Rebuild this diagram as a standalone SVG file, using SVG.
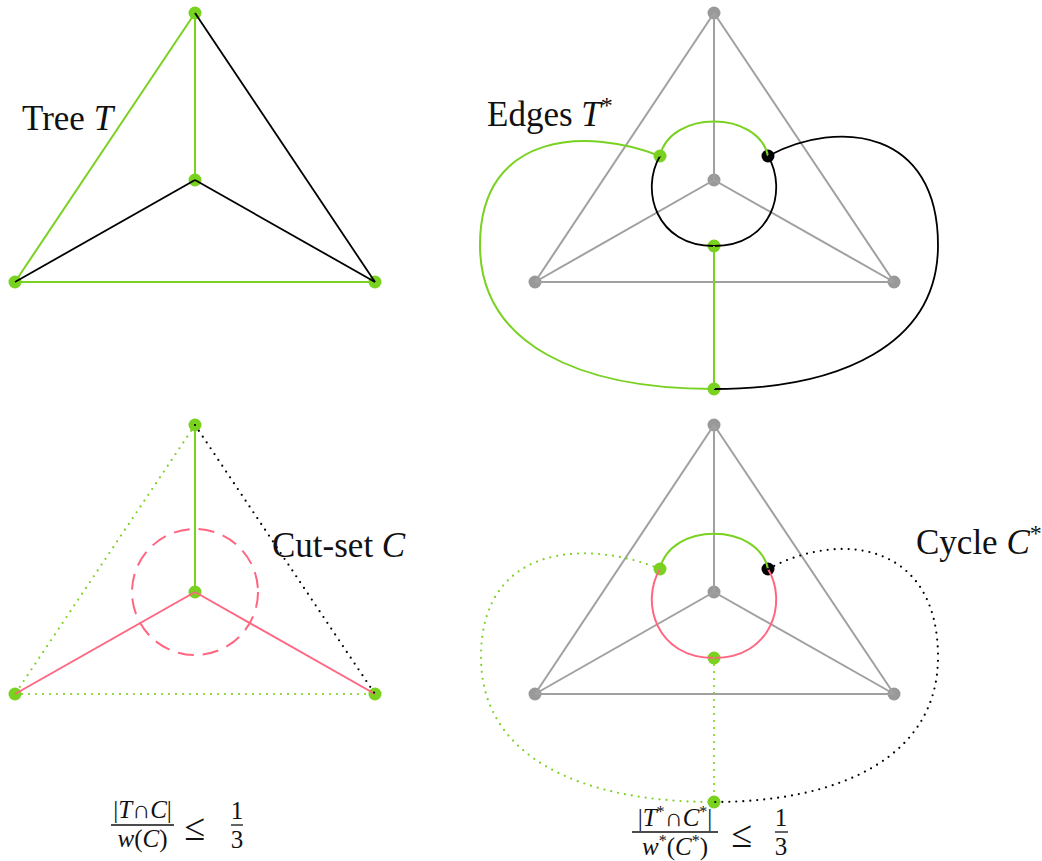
<svg xmlns="http://www.w3.org/2000/svg" width="1042" height="861" viewBox="0 0 1042 861">
<style>
.g{stroke:#79d120;stroke-width:2;fill:none}
.k{stroke:#000;stroke-width:1.8;fill:none}
.p{stroke:#a0a0a0;stroke-width:2;fill:none}
.r{stroke:#ff6680;stroke-width:2;fill:none}
.gd{stroke:#79d120;stroke-width:2.2;fill:none;stroke-dasharray:0 7;stroke-linecap:round}
.kd{stroke:#000;stroke-width:2.2;fill:none;stroke-dasharray:0 7;stroke-linecap:round}
.rd{stroke:#ff6680;stroke-width:2;fill:none;stroke-dasharray:16 9}
.ng{fill:#79d120}
.nk{fill:#000}
.np{fill:#999}
text{font-family:"Liberation Serif","Times New Roman",serif;fill:#111}
.lab{font-size:35px}
.fr{font-size:25px}
.i{font-style:italic}
.bar{stroke:#111;stroke-width:1.3}
</style>

<!-- Top-left: Tree T -->
<g id="tl-nodes">
<circle id="tl-top" class="ng" cx="195" cy="13" r="6.5"/>
<circle id="tl-center" class="ng" cx="195" cy="180" r="6.5"/>
<circle id="tl-bl" class="ng" cx="15" cy="282" r="6.5"/>
<circle id="tl-br" class="ng" cx="375" cy="282" r="6.5"/>
</g>
<g id="tl-edges">
<line class="g" x1="195" y1="13" x2="15" y2="282"/>
<line class="g" x1="195" y1="13" x2="195" y2="180"/>
<line class="g" x1="15" y1="282" x2="375" y2="282"/>
<line class="k" x1="195" y1="180" x2="15" y2="282"/>
<line class="k" x1="195" y1="180" x2="375" y2="282"/>
<line class="k" x1="195" y1="13" x2="375" y2="282"/>
</g>
<text class="lab" x="22" y="130">Tree <tspan class="i">T</tspan></text>

<!-- Top-right: Edges T* -->
<g id="tr-nodes">
<circle id="tr-top" class="np" cx="714" cy="13" r="6.5"/>
<circle id="tr-center" class="np" cx="714" cy="180" r="6.5"/>
<circle id="tr-bl" class="np" cx="535" cy="282" r="6.5"/>
<circle id="tr-br" class="np" cx="894" cy="282" r="6.5"/>
</g>
<g id="tr-edges">
<line class="p" x1="714" y1="13" x2="535" y2="282"/>
<line class="p" x1="714" y1="13" x2="894" y2="282"/>
<line class="p" x1="714" y1="13" x2="714" y2="180"/>
<line class="p" x1="714" y1="180" x2="535" y2="282"/>
<line class="p" x1="714" y1="180" x2="894" y2="282"/>
<line class="p" x1="535" y1="282" x2="894" y2="282"/>
</g>
<g id="tr-dual-nodes">
<circle id="trd-left" class="ng" cx="660" cy="156" r="6.5"/>
<circle id="trd-right" class="nk" cx="768" cy="156" r="6.5"/>
<circle id="trd-inner" class="ng" cx="714" cy="246" r="6.5"/>
<circle id="trd-outer" class="ng" cx="714" cy="389" r="6.5"/>
</g>
<g id="tr-dual-edges">
<path class="g" d="M660,156 C670,110 758,110 768,156"/>
<path class="k" d="M768,156 C788,190 772,246 714,246 C656,246 640,190 660,156"/>
<path class="g" d="M660,156 C590,128 480,130 480,245 C480,345 580,389 714,389"/>
<path class="k" d="M768,156 C840,118 938,130 938,245 C938,345 840,389 714,389"/>
<line class="g" x1="714" y1="246" x2="714" y2="389"/>
</g>
<text class="lab" x="487" y="126">Edges <tspan class="i">T</tspan><tspan font-size="24" dy="-13">*</tspan></text>

<!-- Bottom-left: Cut-set C -->
<g id="bl-nodes">
<circle id="bl-top" class="ng" cx="195" cy="425" r="6.5"/>
<circle id="bl-center" class="ng" cx="195" cy="592" r="6.5"/>
<circle id="bl-bl" class="ng" cx="15" cy="694" r="6.5"/>
<circle id="bl-br" class="ng" cx="375" cy="694" r="6.5"/>
</g>
<g id="bl-edges">
<line class="gd" x1="195" y1="425" x2="15" y2="694"/>
<line class="g" x1="195" y1="425" x2="195" y2="592"/>
<line class="gd" x1="15" y1="694" x2="375" y2="694"/>
<line class="r" x1="195" y1="592" x2="15" y2="694"/>
<line class="r" x1="195" y1="592" x2="375" y2="694"/>
<line class="kd" x1="195" y1="425" x2="375" y2="694"/>
<circle class="rd" cx="195" cy="592" r="63"/>
</g>
<text class="lab" x="272" y="557">Cut-set <tspan class="i">C</tspan></text>

<!-- Bottom-right: Cycle C* -->
<g id="br-nodes">
<circle id="br-top" class="np" cx="714" cy="425" r="6.5"/>
<circle id="br-center" class="np" cx="714" cy="592" r="6.5"/>
<circle id="br-bl" class="np" cx="535" cy="694" r="6.5"/>
<circle id="br-br" class="np" cx="894" cy="694" r="6.5"/>
</g>
<g id="br-edges">
<line class="p" x1="714" y1="425" x2="535" y2="694"/>
<line class="p" x1="714" y1="425" x2="894" y2="694"/>
<line class="p" x1="714" y1="425" x2="714" y2="592"/>
<line class="p" x1="714" y1="592" x2="535" y2="694"/>
<line class="p" x1="714" y1="592" x2="894" y2="694"/>
<line class="p" x1="535" y1="694" x2="894" y2="694"/>
</g>
<g id="br-dual-nodes">
<circle id="brd-left" class="ng" cx="660" cy="569" r="6.5"/>
<circle id="brd-right" class="nk" cx="768" cy="569" r="6.5"/>
<circle id="brd-inner" class="ng" cx="714" cy="658" r="6.5"/>
<circle id="brd-outer" class="ng" cx="714" cy="802" r="6.5"/>
</g>
<g id="br-dual-edges">
<path class="g" d="M660,569 C670,522 758,522 768,569"/>
<path class="r" d="M768,569 C788,602 772,658 714,658 C656,658 640,602 660,569"/>
<path class="gd" d="M660,569 C590,540 481,542 481,657 C481,757 580,802 714,802"/>
<path class="kd" d="M768,569 C840,530 938,542 938,657 C938,757 840,802 714,802"/>
<line class="gd" x1="714" y1="658" x2="714" y2="802"/>
</g>
<text class="lab" x="916" y="554">Cycle <tspan class="i">C</tspan><tspan font-size="24" dy="-13">*</tspan></text>

<!-- Formulas -->
<g id="formula-left">
<text class="fr" x="142.5" y="818" text-anchor="middle">|<tspan class="i">T</tspan>∩<tspan class="i">C</tspan>|</text>
<line class="bar" x1="111" y1="825" x2="174" y2="825"/>
<text class="fr" x="142.5" y="847" text-anchor="middle"><tspan class="i">w</tspan>(<tspan class="i">C</tspan>)</text>
<text x="195" y="840" font-size="38" text-anchor="middle">≤</text>
<text class="fr" x="237" y="819" text-anchor="middle">1</text>
<line class="bar" x1="231" y1="825" x2="243" y2="825"/>
<text class="fr" x="237" y="848" text-anchor="middle">3</text>
</g>
<g id="formula-right">
<text class="fr" x="675" y="826" text-anchor="middle">|<tspan class="i">T</tspan><tspan font-size="16" dy="-9">*</tspan><tspan dy="9">∩</tspan><tspan class="i">C</tspan><tspan font-size="16" dy="-9">*</tspan><tspan dy="9">|</tspan></text>
<line class="bar" x1="632" y1="832" x2="718" y2="832"/>
<text class="fr" x="675" y="855" text-anchor="middle"><tspan class="i">w</tspan><tspan font-size="16" dy="-9">*</tspan><tspan dy="9">(</tspan><tspan class="i">C</tspan><tspan font-size="16" dy="-9">*</tspan><tspan dy="9">)</tspan></text>
<text x="742" y="847" font-size="38" text-anchor="middle">≤</text>
<text class="fr" x="781" y="826" text-anchor="middle">1</text>
<line class="bar" x1="775" y1="832" x2="788" y2="832"/>
<text class="fr" x="781" y="855" text-anchor="middle">3</text>
</g>
</svg>
